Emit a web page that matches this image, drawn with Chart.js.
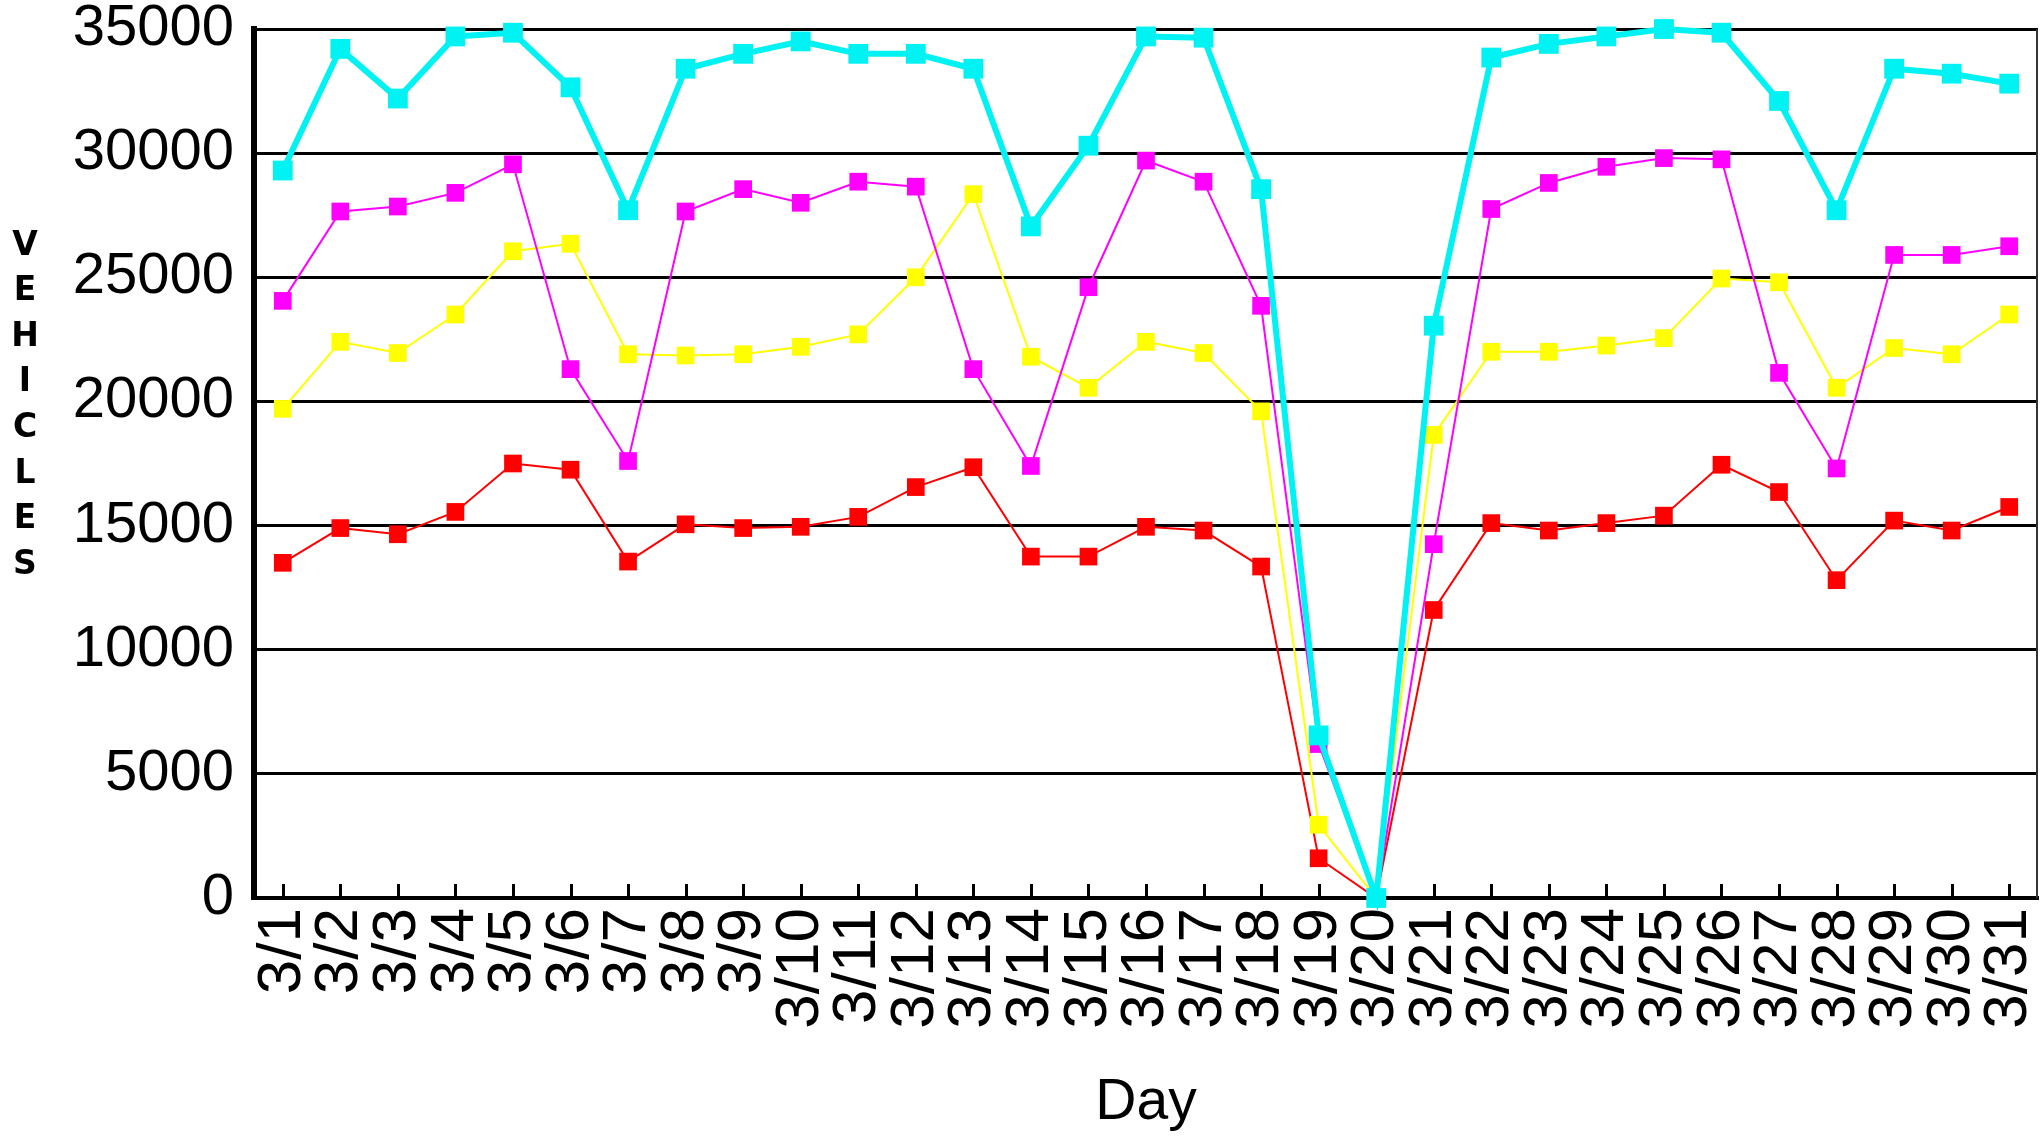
<!DOCTYPE html>
<html>
<head>
<meta charset="utf-8">
<script src="https://cdn.jsdelivr.net/npm/chart.js@4.4.1/dist/chart.umd.min.js"></script>
<style>
  html, body { margin: 0; padding: 0; background: #fff; }
</style>
</head>
<body>
<canvas id="chart" width="2040" height="1139"></canvas>
<script>
// categories
const days = ['3/1', '3/2', '3/3', '3/4', '3/5', '3/6', '3/7', '3/8', '3/9', '3/10',
  '3/11', '3/12', '3/13', '3/14', '3/15', '3/16', '3/17', '3/18', '3/19', '3/20',
  '3/21', '3/22', '3/23', '3/24', '3/25', '3/26', '3/27', '3/28', '3/29', '3/30', '3/31'];

// series values
const cyanSeries = [29300, 34200, 32200, 34700, 34850, 32650, 27700, 33400, 34000, 34500,
  34000, 34000, 33400, 27050, 30300, 34700, 34650, 28550, 6550, 0,
  23050, 33850, 34400, 34700, 35000, 34850, 32100, 27700, 33400, 33200, 32800];
const magentaSeries = [24050, 27650, 27850, 28400, 29550, 21300, 17600, 27650, 28550, 28000,
  28850, 28650, 21300, 17400, 24600, 29700, 28850, 23850, 6200, 0,
  14250, 27750, 28800, 29450, 29800, 29750, 21150, 17300, 25900, 25900, 26250];
const yellowSeries = [19700, 22400, 21950, 23500, 26050, 26350, 21900, 21850, 21900, 22200,
  22700, 25000, 28350, 21800, 20550, 22400, 21950, 19600, 2950, 0,
  18650, 22000, 22000, 22250, 22550, 24950, 24800, 20550, 22150, 21900, 23500];
const redSeries = [13500, 14900, 14650, 15550, 17500, 17250, 13550, 15050, 14900, 14950,
  15350, 16550, 17350, 13750, 13750, 14950, 14800, 13350, 1600, 0,
  11600, 15100, 14800, 15100, 15400, 17450, 16350, 12800, 15200, 14800, 15750];

// y axis ticks
const yMin = 0;
const yMax = 35000;
const yStep = 5000;

const yTitle = 'VEHICLES';
const xTitle = 'Day';

// inside tick marks, right border, stacked y title
const extras = {
    id: 'extras',
    beforeDatasetsDraw(chart) {
        const ctx = chart.ctx;
        const area = chart.chartArea;
        const xs = chart.scales.x;
        ctx.save();
        ctx.strokeStyle = '#000';
        ctx.lineWidth = 3;
        ctx.beginPath();
        days.forEach((d, i) => {
            const px = Math.round(xs.getPixelForValue(i)) + 0.5;
            ctx.moveTo(px, area.bottom);
            ctx.lineTo(px, area.bottom - 14);
        });
        ctx.stroke();
        ctx.lineWidth = 2;
        ctx.strokeStyle = '#333';
        ctx.beginPath();
        ctx.moveTo(area.right - 1, area.top);
        ctx.lineTo(area.right - 1, area.bottom);
        ctx.stroke();
        ctx.restore();
    },
    afterDraw(chart) {
        const ctx = chart.ctx;
        ctx.save();
        ctx.fillStyle = '#000';
        ctx.font = 'bold 33px "DejaVu Sans"';
        ctx.textAlign = 'center';
        ctx.textBaseline = 'middle';
        yTitle.split('').forEach((ch, i) => {
            ctx.fillText(ch, 25, 246 + i * 45.6);
        });
        ctx.restore();
    }
};

const pointSet = (label, data, color, lineW, radius) => ({
    label: label,
    data: data,
    borderColor: color,
    backgroundColor: color,
    borderWidth: lineW,
    pointStyle: 'rect',
    pointRadius: radius,
    pointBorderWidth: 0,
    pointBackgroundColor: color,
    tension: 0,
    clip: false,
});

// keep the plot box where the reference has it
const noPad = (scale) => {
    scale.paddingTop = 0;
    scale.paddingBottom = 0;
    scale.paddingLeft = 0;
    scale.paddingRight = 0;
};

new Chart(document.getElementById('chart'), {
    type: 'line',
    data: {
        labels: days,
        datasets: [
            pointSet('Cyan', cyanSeries, '#00f2f2', 6, 14),
            pointSet('Magenta', magentaSeries, '#ff00ff', 2, 12.5),
            pointSet('Yellow', yellowSeries, '#ffff00', 2, 12.5),
            pointSet('Red', redSeries, '#ff0000', 2, 12.5),
        ],
    },
    options: {
        responsive: false,
        animation: false,
        layout: { autoPadding: false, padding: { top: 29, right: 2, left: 0, bottom: 0 } },
        plugins: {
            legend: { display: false },
            tooltip: { enabled: false },
        },
        scales: {
            x: {
                offset: true,
                afterFit: (scale) => { scale.height = 241; noPad(scale); },
                grid: { drawOnChartArea: false, drawTicks: false },
                border: { color: '#000', width: 4 },
                ticks: {
                    color: '#000',
                    font: { family: '"Liberation Sans", Arial', size: 62 },
                    minRotation: 90,
                    maxRotation: 90,
                    autoSkip: false,
                    padding: 10,
                },
                title: {
                    display: true,
                    text: xTitle,
                    color: '#000',
                    font: { family: '"Liberation Sans", Arial', size: 57 },
                    padding: { top: 0, bottom: 2 },
                },
            },
            y: {
                min: yMin,
                max: yMax,
                afterFit: (scale) => { scale.width = 254; noPad(scale); },
                grid: { color: '#000', lineWidth: 3, drawTicks: false },
                border: { color: '#000', width: 6 },
                ticks: {
                    stepSize: yStep,
                    color: '#000',
                    padding: 20,
                    font: { family: '"Liberation Sans", Arial', size: 58 },
                    callback: (v) => String(v),
                },
            },
        },
    },
    plugins: [extras],
});
</script>
</body>
</html>
